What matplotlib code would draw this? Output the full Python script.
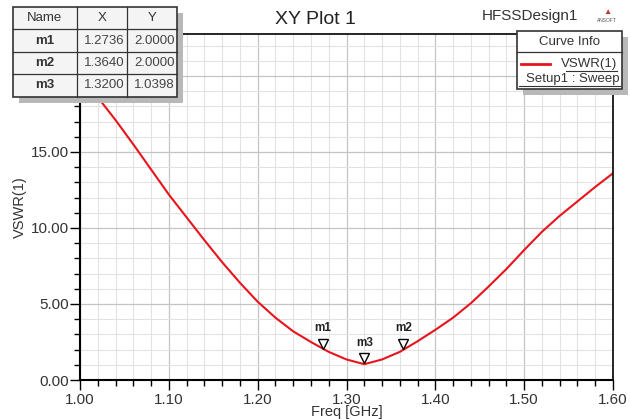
import matplotlib
matplotlib.use("Agg")
import matplotlib.pyplot as plt
import matplotlib.transforms as mtrans
from matplotlib.ticker import MultipleLocator, FormatStrFormatter, FuncFormatter
from matplotlib.patches import Rectangle

freq = [1.00, 1.02, 1.04, 1.06, 1.08, 1.10, 1.12, 1.14, 1.16, 1.18, 1.20,
        1.22, 1.24, 1.26, 1.28, 1.30, 1.32, 1.34, 1.36, 1.38, 1.40,
        1.42, 1.44, 1.46, 1.48, 1.50, 1.52, 1.54, 1.56, 1.58, 1.60]
vswr = [20.0, 18.6, 17.1, 15.5, 13.85, 12.2, 10.7, 9.2, 7.75, 6.4, 5.15,
        4.1, 3.2, 2.5, 1.85, 1.35, 1.04, 1.35, 1.85, 2.55, 3.3,
        4.1, 5.05, 6.15, 7.3, 8.55, 9.75, 10.8, 11.75, 12.7, 13.6]

marker_names = ["m1", "m2", "m3"]
marker_x = [1.2736, 1.3640, 1.3200]
marker_y = [2.0000, 2.0000, 1.0398]

plt.rcParams['font.family'] = ['Liberation Sans', 'DejaVu Sans']

fig = plt.figure(figsize=(6.3, 4.19), dpi=100)
W, H = 630, 419
ax = fig.add_axes([80 / W, 1 - 380 / H, 533 / W, 346 / H])

ax.plot(freq, vswr, color='#e8141c', lw=1.5, zorder=3)
ax.set_xlim(1.0, 1.6)
ax.set_ylim(0, 22.76)

ax.xaxis.set_major_locator(MultipleLocator(0.1))
ax.xaxis.set_minor_locator(MultipleLocator(0.02))
ax.yaxis.set_major_locator(MultipleLocator(5))
ax.yaxis.set_minor_locator(MultipleLocator(1))
ax.xaxis.set_major_formatter(FormatStrFormatter('%.2f'))
# the 20.00 label sits under the marker table in the reference
ax.yaxis.set_major_formatter(FuncFormatter(lambda v, p: '' if v > 17 else '%.2f' % v))
ax.grid(which='major', color='#c4c4c4', lw=0.9, zorder=0)
ax.grid(which='minor', color='#e2e2e2', lw=0.8, zorder=0)
ax.tick_params(which='major', direction='out', length=7, width=1, labelsize=11,
               colors='black', labelcolor='#333333', pad=1)
ax.tick_params(which='minor', direction='out', length=4, width=1)
ax.tick_params(axis='x', which='major', pad=2)
for s in ['top', 'right']:
    ax.spines[s].set_visible(False)
for s in ['left', 'bottom']:
    ax.spines[s].set_linewidth(1.5)
ax.plot([1.0, 1.6], [22.76, 22.76], color='black', lw=1.2, clip_on=False, zorder=4)
ax.plot([1.6, 1.6], [0, 22.76], color='black', lw=1.2, clip_on=False, zorder=4)

ax.set_xlabel('Freq [GHz]', fontsize=10.5, color='#333333', labelpad=-1)
ax.set_ylabel('VSWR(1)', fontsize=10.5, color='#333333', labelpad=3)

# markers
shift = mtrans.ScaledTranslation(0, 6 / 100, fig.dpi_scale_trans)
for n, mx, my in zip(marker_names, marker_x, marker_y):
    ax.plot([mx], [my], marker='v', ms=7.5, mfc='white', mec='black', mew=1,
            transform=ax.transData + shift, zorder=5, clip_on=False)
    ax.annotate(n, xy=(mx, my), xytext=(0, 11), textcoords='offset points',
                ha='center', va='bottom', fontsize=8.5, fontweight='bold', color='#222222')

# title texts
fig.text(315 / W, 1 - 19 / H, 'XY Plot 1', ha='center', va='center', fontsize=14, color='#222222')
fig.text(530 / W, 1 - 16 / H, 'HFSSDesign1', ha='center', va='center', fontsize=11, color='#333333')
fig.text(607 / W, 1 - 21 / H, 'ANSOFT', ha='center', va='center', fontsize=3.5, color='#555555')
fig.text(607 / W, 1 - 12 / H, '\u25B2', ha='center', va='center', fontsize=6, color='#c0392b')

def px_rect(x0, y0, x1, y1, **kw):
    return Rectangle((x0 / W, 1 - y1 / H), (x1 - x0) / W, (y1 - y0) / H,
                     transform=fig.transFigure, **kw)

# marker table
cols = [13, 77, 127, 177]
rows = [7, 29, 52, 74, 97]
fig.patches.append(px_rect(cols[0] + 6, rows[0] + 6, cols[-1] + 6, rows[-1] + 6,
                           facecolor='#b8b8b8', edgecolor='none', zorder=10))
fig.patches.append(px_rect(cols[0], rows[0], cols[-1], rows[-1],
                           facecolor='#f4f4f4', edgecolor='#333333', lw=1.2, zorder=11))
for c in cols[1:-1]:
    fig.add_artist(plt.Line2D([c / W, c / W], [1 - rows[0] / H, 1 - rows[-1] / H],
                              transform=fig.transFigure, color='#333333', lw=0.9, zorder=12))
for r in rows[1:-1]:
    fig.add_artist(plt.Line2D([cols[0] / W, cols[-1] / W], [1 - r / H, 1 - r / H],
                              transform=fig.transFigure, color='#333333', lw=0.9, zorder=12))
header = ['Name', 'X', 'Y']
table = [[n, '%.4f' % x, '%.4f' % y] for n, x, y in zip(marker_names, marker_x, marker_y)]
table = [header] + table
for i, row in enumerate(table):
    yc = 1 - (rows[i] + rows[i + 1]) / 2 / H
    for j, txt in enumerate(row):
        if j == 0:
            xc = (cols[0] + cols[1]) / 2 / W
            fig.text(xc, yc, txt, ha='center', va='center', fontsize=9.5, zorder=13,
                     fontweight='bold' if i > 0 else 'normal', color='#333333')
        else:
            if i == 0:
                fig.text((cols[j] + cols[j + 1]) / 2 / W, yc, txt, ha='center', va='center',
                         fontsize=9.5, color='#333333', zorder=13)
            else:
                fig.text((cols[j + 1] - 2) / W, yc, txt, ha='right', va='center',
                         fontsize=9.5, color='#444444', zorder=13)

# curve info box
bx0, bx1, by0, by1, bmid = 517, 622, 31, 89, 52
fig.patches.append(px_rect(bx0 + 6, by0 + 6, bx1 + 6, by1 + 6,
                           facecolor='#b8b8b8', edgecolor='none', zorder=10))
fig.patches.append(px_rect(bx0, by0, bx1, by1, facecolor='white', edgecolor='#333333',
                           lw=1.2, zorder=11))
fig.add_artist(plt.Line2D([bx0 / W, bx1 / W], [1 - bmid / H, 1 - bmid / H],
                          transform=fig.transFigure, color='#333333', lw=0.9, zorder=12))
fig.text((bx0 + bx1) / 2 / W, 1 - 42 / H, 'Curve Info', ha='center', va='center',
         fontsize=9.5, color='#333333', zorder=13)
fig.add_artist(plt.Line2D([521 / W, 550 / W], [1 - 64 / H, 1 - 64 / H],
                          transform=fig.transFigure, color='#e8141c', lw=2, zorder=13))
fig.text(617 / W, 1 - 64 / H, 'VSWR(1)', ha='right', va='center', fontsize=9.5,
         color='#333333', zorder=13)
fig.text(620 / W, 1 - 79 / H, 'Setup1 : Sweep', ha='right', va='center', fontsize=9.5,
         color='#333333', zorder=13)
fig.add_artist(plt.Line2D([566 / W, 617 / W], [1 - 71 / H, 1 - 71 / H],
                          transform=fig.transFigure, color='#333333', lw=0.8, zorder=13))
fig.add_artist(plt.Line2D([519 / W, 620 / W], [1 - 86 / H, 1 - 86 / H],
                          transform=fig.transFigure, color='#333333', lw=0.8, zorder=13))

fig.savefig('out.png', dpi=100, facecolor='white')
